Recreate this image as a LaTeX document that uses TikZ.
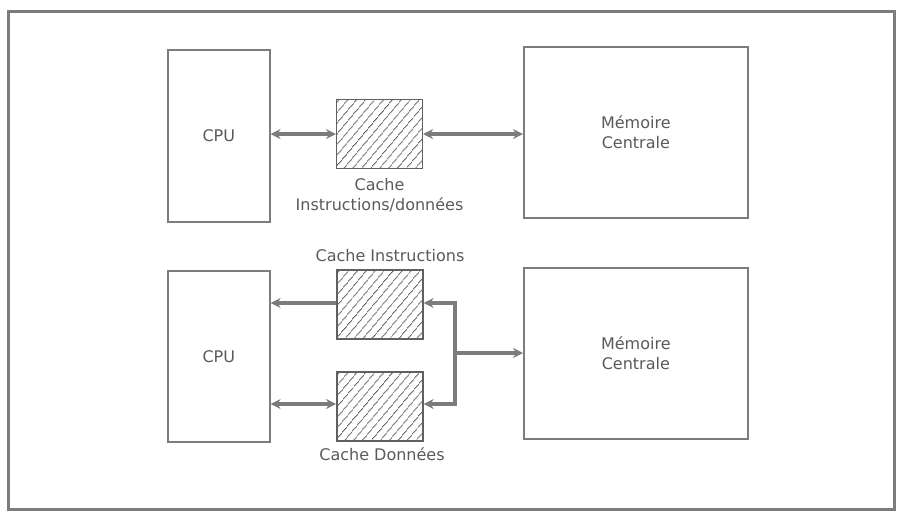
\documentclass[tikz,border=0pt]{standalone}
\usepackage{fontspec}
\setmainfont{DejaVu Sans}
\usetikzlibrary{arrows.meta,patterns.meta,calc}
\definecolor{ln}{HTML}{7C7C7C}
\definecolor{hl}{HTML}{606060}
\definecolor{tx}{HTML}{5A5A5A}
\tikzset{
  box/.style={draw=ln, line width=1.6pt, fill=white, anchor=north west, inner sep=0pt},
  cache/.style={draw=hl, line width=1.6pt, anchor=north west, inner sep=0pt,
     minimum width=86pt, minimum height=69pt,
     pattern={Lines[angle=50, distance=6.5pt, line width=1.1pt]}, pattern color=hl},
  lbl/.style={text=tx, font=\fontsize{16}{20}\selectfont, align=center},
  conn/.style={draw=ln, line width=3.4pt},
  tip/.style={-{Stealth[length=10pt,width=10pt]}},
  dtip/.style={{Stealth[length=10pt,width=10pt]}-{Stealth[length=10pt,width=10pt]}}
}
\begin{document}
\begin{tikzpicture}[x=1pt,y=-1pt]
\useasboundingbox (0,0) rectangle (899,512);
\draw[draw=ln, line width=3pt] (8,11) rectangle (894,509);
% top
\node[box, minimum width=102pt, minimum height=172pt] (cpu1) at (167,49) {};
\node[lbl] at (cpu1.center) {CPU};
\node[cache] (c1) at (336,99) {};
\node[box, minimum width=224pt, minimum height=171pt] (m1) at (523,46) {};
\node[lbl] at (m1.center) {Mémoire\\Centrale};
\node[lbl, anchor=north] (l1) at ($(c1.south)+(0,6)$) {Cache\\Instructions/données};
% bottom
\node[box, minimum width=102pt, minimum height=171pt] (cpu2) at (167,270) {};
\node[lbl] at (cpu2.center) {CPU};
\node[cache] (ci) at (336,269) {};
\node[cache] (cd) at (336,371) {};
\node[box, minimum width=224pt, minimum height=171pt] (m2) at (523,267) {};
\node[lbl] at (m2.center) {Mémoire\\Centrale};
\node[lbl, anchor=south] (li) at (390,265) {Cache Instructions};
\node[lbl, anchor=north] (ld) at (382,444) {Cache Données};
% connectors
\draw[conn, dtip] (cpu1.east |- c1.west) -- (c1.west);
\draw[conn, dtip] (c1.east) -- (m1.west |- c1.east);
\draw[conn, tip] (ci.west |- 0,303) -- (cpu2.east |- 0,303);
\draw[conn, dtip] (cpu2.east |- 0,404) -- (cd.west |- 0,404);
\coordinate (bt) at (455,303);
\coordinate (bb) at (455,404);
\coordinate (bm) at (455,353);
\draw[conn, tip] (bt) -- (ci.east |- bt);
\draw[conn, tip] (bb) -- (cd.east |- bb);
\draw[conn, line cap=rect] (bt) -- (bb);
\draw[conn, tip] (bm) -- (m2.west |- bm);
\end{tikzpicture}
\end{document}
